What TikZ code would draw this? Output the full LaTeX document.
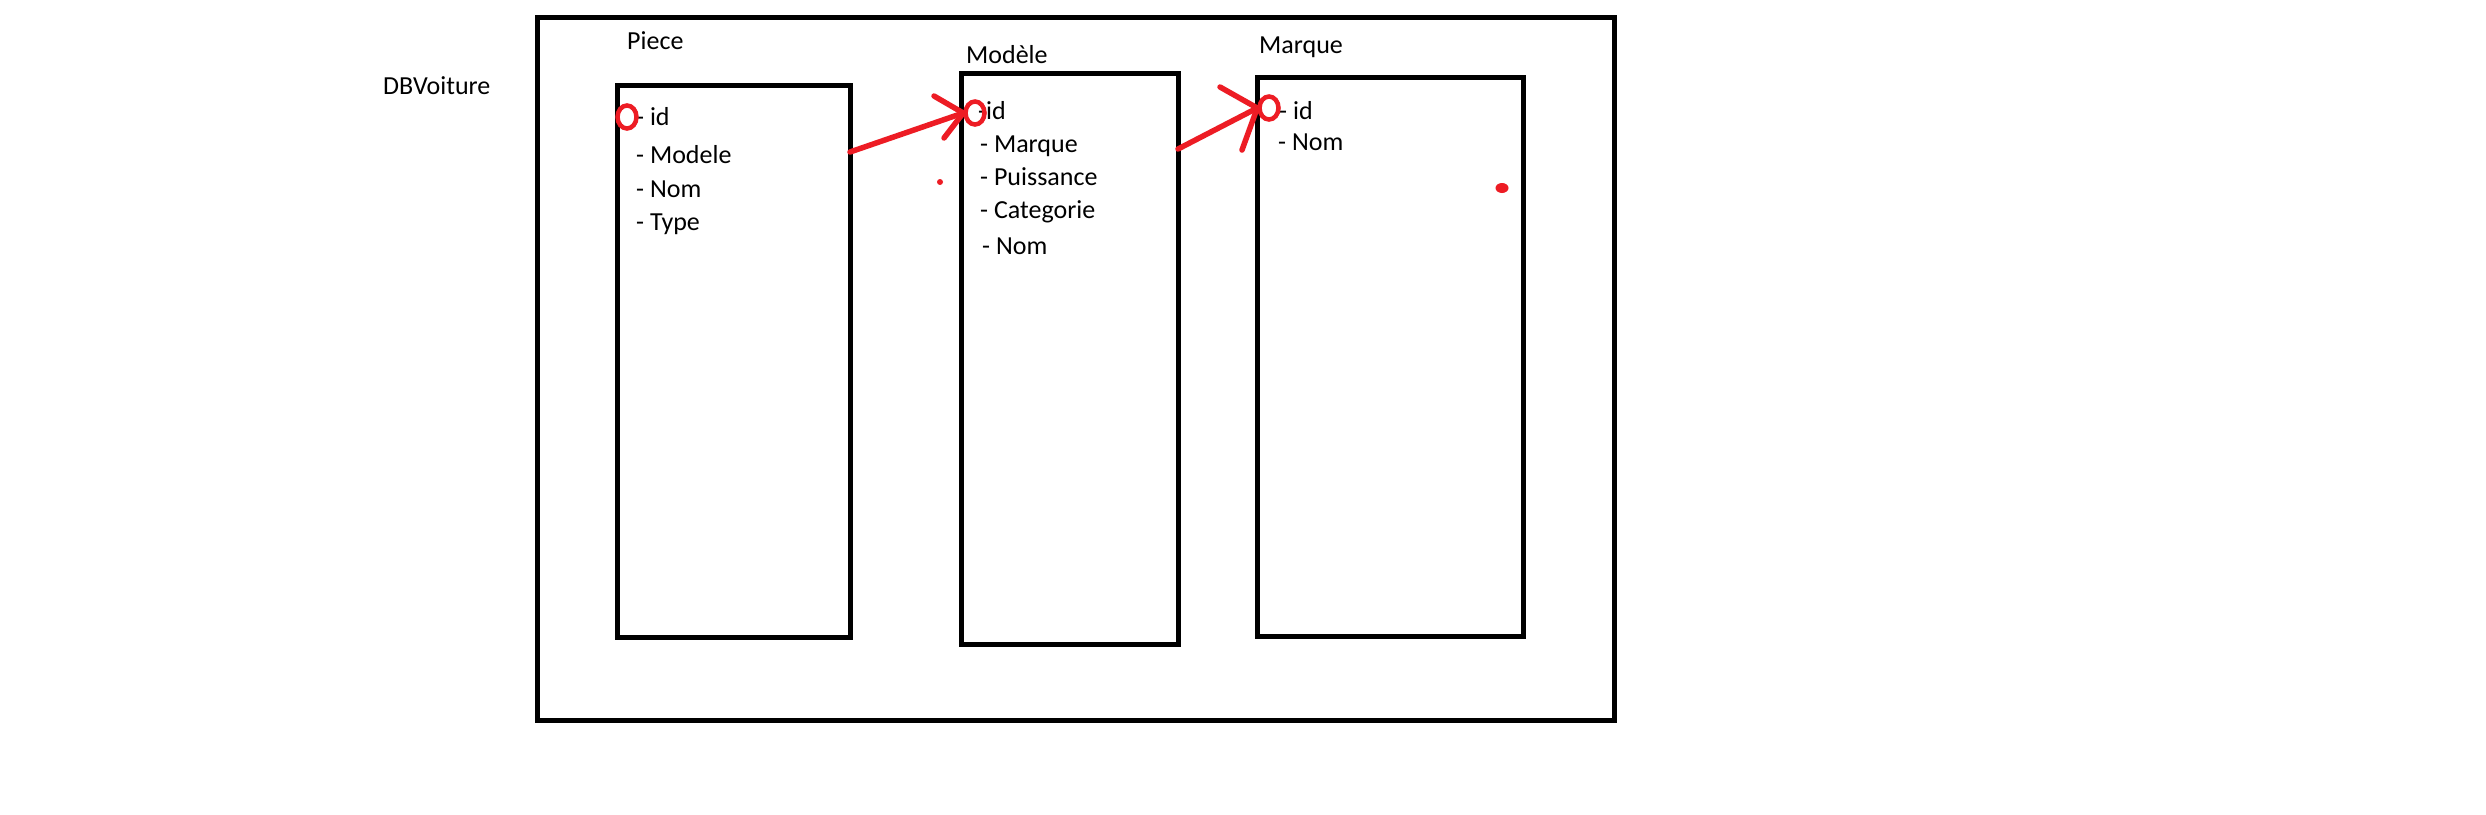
\documentclass[tikz,border=0pt]{standalone}
\usepackage{fontspec}
\setmainfont{Carlito}
\usetikzlibrary{shapes.geometric}
\definecolor{pred}{HTML}{ED1C24}
\begin{document}
\begin{tikzpicture}[x=1pt,y=-1pt,
  box/.style={draw=black,line width=5pt,inner sep=0pt},
  lbl/.style={anchor=mid west,inner sep=0pt,yshift=-5.5pt,font=\fontsize{26}{30}\selectfont},
  ring/.style={draw=pred,line width=4.5pt,ellipse,inner sep=0pt,minimum width=19pt,minimum height=23pt},
  rline/.style={draw=pred,line width=5.5pt,line cap=round},
  rdot/.style={fill=pred,ellipse,inner sep=0pt}]
\useasboundingbox[fill=white] (0,0) rectangle (2486,814);
% frames
\node[box,minimum width=1077pt,minimum height=703pt] (outer) at (1075.5,368.5) {};
\node[box,minimum width=233pt,minimum height=552pt] (piece) at (733.5,361) {};
\node[box,minimum width=217pt,minimum height=571pt] (modele) at (1069.5,358.5) {};
\node[box,minimum width=266pt,minimum height=559pt] (marque) at (1390,356.5) {};
% titles
\node[lbl] (tdb) at (383,87) {DBVoiture};
\node[lbl] (tpiece) at (627,42) {Piece};
\node[lbl] (tmodele) at (966,56) {Modèle};
\node[lbl] (tmarque) at (1259,46) {Marque};
% Piece fields
\node[lbl] (p1) at (636,118) {- id};
\node[lbl] (p2) at (636,156) {- Modele};
\node[lbl] (p3) at (636,190) {- Nom};
\node[lbl] (p4) at (636,223) {- Type};
% Modele fields
\node[lbl] (m1) at (978,112) {-id};
\node[lbl] (m2) at (980,145) {- Marque};
\node[lbl] (m3) at (980,178) {- Puissance};
\node[lbl] (m4) at (980,211) {- Categorie};
\node[lbl] (m5) at (982,247) {- Nom};
% Marque fields
\node[lbl] (k1) at (1279,112) {- id};
\node[lbl] (k2) at (1278,143) {- Nom};
% key rings
\node[ring] (r1) at (627,117) {};
\node[ring] (r2) at (975,113) {};
\node[ring] (r3) at (1269,108) {};
% arrows
\coordinate (a1s) at (850,152);
\coordinate (a1u) at (934,96);
\coordinate (a1l) at (944,138);
\coordinate (a2s) at (1178,149);
\coordinate (a2u) at (1220,87);
\coordinate (a2l) at (1242,150);
\draw[rline] (a1s) -- (r2.west);
\draw[rline] (a1u) -- (r2.west);
\draw[rline] (a1l) -- (r2.west);
\draw[rline] (a2s) -- (r3.west);
\draw[rline] (a2u) -- (r3.west);
\draw[rline] (a2l) -- (r3.west);
% stray dots
\node[rdot,minimum width=6pt,minimum height=6pt] (d1) at (940,182) {};
\node[rdot,minimum width=13pt,minimum height=10pt] (d2) at (1502,188) {};
\end{tikzpicture}
\end{document}
